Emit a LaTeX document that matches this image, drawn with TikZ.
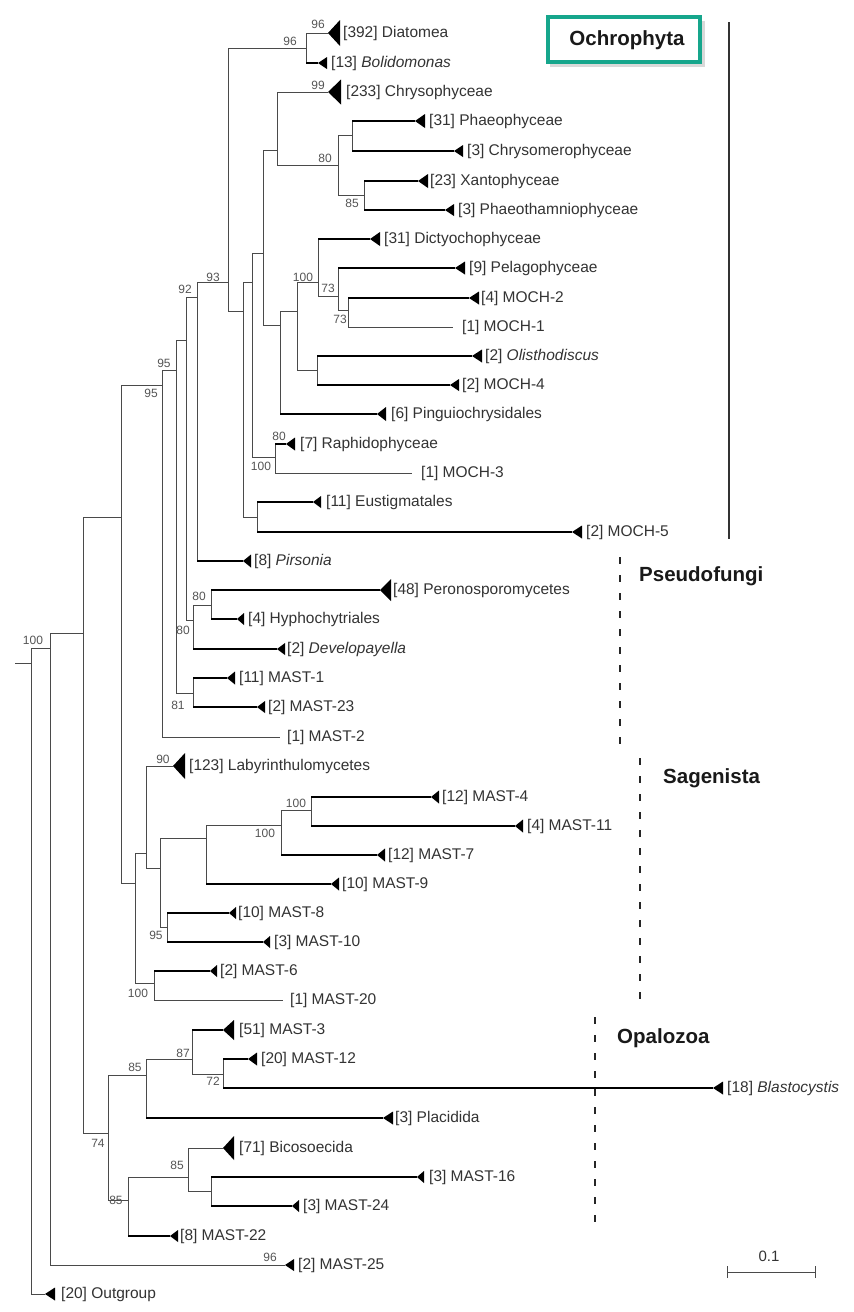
\documentclass[tikz,border=0pt]{standalone}
\usepackage{fontspec}
\setmainfont{Liberation Sans}
\definecolor{brc}{HTML}{4A4A4A}
\definecolor{txc}{HTML}{333333}
\definecolor{supc}{HTML}{555555}
\definecolor{tealbox}{RGB}{22,166,140}
\newcommand{\leaf}[9]{%
  \coordinate (#1) at (#4,#5);
  \draw[vline] (#2) -- (#2 |- #1);
  \draw[#3] (#2 |- #1) -- (#1);
  \ifdim #6pt>0pt \fill[tri] (#1) -- ++(#6,-#7) -- ++(0,2*#7) -- cycle;\fi
  \node[leaflab] (#1t) at (#8,#5) {#9};
}
\newcommand{\inode}[4]{%
  \coordinate (#1) at (#3,#4);
  \draw[vline] (#2) -- (#2 |- #1);
  \draw[thinbr] (#2 |- #1) -- (#1);
}
\begin{document}
\begin{tikzpicture}[x=1pt,y=-1pt,
  vline/.style={line width=0.9pt, draw=brc, line cap=rect},
  thinbr/.style={line width=0.9pt, draw=brc},
  thickbr/.style={line width=2.8pt, draw=black},
  tri/.style={fill=black},
  leaflab/.style={anchor=west, inner sep=0pt, text=txc, font=\fontsize{15.5}{18}\selectfont},
  sup/.style={inner sep=0pt, text=supc, font=\fontsize{12}{14}\selectfont},
  clade/.style={anchor=west, inner sep=0pt, text=black!90, font=\bfseries\fontsize{20.5}{24}\selectfont},
  cladedash/.style={line width=2.2pt, dash pattern=on 7pt off 11pt, draw=black!85},
]
\useasboundingbox[fill=white] (0,0) rectangle (854,1312);

% ---------- backbone ----------
\coordinate (root) at (15,663);
\inode{N0}{root}{31}{663}
\inode{N1}{N0}{50}{648}
\inode{N2}{N1}{83}{633}
\inode{N3}{N2}{121}{517}
\inode{N4}{N3}{162}{385}
\inode{N5}{N4}{176}{370}
\inode{N6}{N5}{186}{340}
\inode{N7}{N6}{197}{297}
% Ochrophyta
\inode{O1}{N7}{228}{282}
\inode{DB}{O1}{306}{48}
\inode{O2}{O1}{243}{311}
\inode{O3}{O2}{252}{282}
\inode{O4}{O3}{263}{253}
\inode{CH}{O4}{277}{150}
\inode{PH}{CH}{338}{165}
\inode{PP}{PH}{352}{135}
\inode{XP}{PH}{364}{195}
\inode{O5}{O4}{280}{325}
\inode{O6}{O5}{297}{311}
\inode{D1}{O6}{318}{282}
\inode{D2}{D1}{338}{296}
\inode{D3}{D2}{348}{310}
\inode{OM}{O6}{317}{370}
\inode{RM}{O3}{275}{457}
\inode{EM}{O2}{257}{517}
% Pseudofungi
\inode{P1}{N6}{193}{620}
\inode{P2}{P1}{211}{605}
\inode{M1}{N5}{193}{693}
% Sagenista
\inode{S0}{N3}{135}{883}
\inode{S1}{S0}{146}{853}
\inode{S2}{S1}{160}{868}
\inode{S3}{S2}{206}{838}
\inode{S4}{S3}{281}{825}
\inode{S5}{S4}{311}{810}
\inode{M8}{S2}{167}{927}
\inode{M6}{S0}{154}{983}
% Opalozoa
\inode{Q0}{N2}{108}{1133}
\inode{Q1}{Q0}{146}{1075}
\inode{Q2}{Q1}{192}{1059}
\inode{Q3}{Q2}{223}{1074}
\inode{Q4}{Q0}{128}{1200}
\inode{Q5}{Q4}{188}{1177}
\inode{Q6}{Q5}{211}{1191}

% ---------- leaves ----------
\leaf{dia}{DB}{thinbr}{328}{33}{12}{13}{343}{[392] Diatomea}
\leaf{bol}{DB}{thickbr}{318}{63}{9}{6}{331}{[13] \textit{Bolidomonas}}
\leaf{chr}{CH}{thinbr}{328}{92}{13}{12.5}{346}{[233] Chrysophyceae}
\leaf{pha}{PP}{thickbr}{415}{121}{10}{7}{429}{[31] Phaeophyceae}
\leaf{cmr}{PP}{thickbr}{454}{151}{9}{6}{467}{[3] Chrysomerophyceae}
\leaf{xan}{XP}{thickbr}{418}{181}{10}{7}{430}{[23] Xantophyceae}
\leaf{pht}{XP}{thickbr}{445}{210}{9}{6}{458}{[3] Phaeothamniophyceae}
\leaf{dic}{D1}{thickbr}{370}{239}{10}{7}{384}{[31] Dictyochophyceae}
\leaf{pel}{D2}{thickbr}{455}{268}{10}{6.5}{469}{[9] Pelagophyceae}
\leaf{mtwo}{D3}{thickbr}{469}{298}{10}{6.5}{481}{[4] MOCH-2}
\leaf{mone}{D3}{thinbr}{453}{327}{0}{0}{462}{[1] MOCH-1}
\leaf{oli}{OM}{thickbr}{472}{356}{10}{6.5}{485}{[2] \textit{Olisthodiscus}}
\leaf{mfour}{OM}{thickbr}{450}{385}{9}{6}{462}{[2] MOCH-4}
\leaf{pin}{O5}{thickbr}{377}{414}{9}{7}{391}{[6] Pinguiochrysidales}
\leaf{rap}{RM}{thickbr}{286}{444}{9}{6.5}{300}{[7] Raphidophyceae}
\leaf{mthree}{RM}{thinbr}{412}{473}{0}{0}{421}{[1] MOCH-3}
\leaf{eus}{EM}{thickbr}{313}{502}{8}{6}{326}{[11] Eustigmatales}
\leaf{mfive}{EM}{thickbr}{572}{532}{10}{6.5}{586}{[2] MOCH-5}
\leaf{pir}{N7}{thickbr}{243}{561}{8}{6.5}{254}{[8] \textit{Pirsonia}}
\leaf{per}{P2}{thickbr}{380}{590}{11}{11}{393}{[48] Peronosporomycetes}
\leaf{hyp}{P2}{thickbr}{237}{619}{7}{6}{248}{[4] Hyphochytriales}
\leaf{dev}{P1}{thickbr}{277}{649}{8}{6}{287}{[2] \textit{Developayella}}
\leaf{maone}{M1}{thickbr}{227}{678}{8}{6.5}{239}{[11] MAST-1}
\leaf{matwthr}{M1}{thickbr}{257}{707}{8}{6}{268}{[2] MAST-23}
\leaf{matwo}{N4}{thinbr}{280}{737}{0}{0}{287}{[1] MAST-2}
\leaf{lab}{S1}{thinbr}{173}{766}{12}{13}{189}{[123] Labyrinthulomycetes}
\leaf{mafour}{S5}{thickbr}{431}{797}{8}{6.5}{442}{[12] MAST-4}
\leaf{maeleven}{S5}{thickbr}{515}{826}{8}{6.5}{527}{[4] MAST-11}
\leaf{maseven}{S4}{thickbr}{377}{855}{8}{6.5}{388}{[12] MAST-7}
\leaf{manine}{S3}{thickbr}{331}{884}{8}{6.5}{342}{[10] MAST-9}
\leaf{maeight}{M8}{thickbr}{229}{913}{7}{6}{238}{[10] MAST-8}
\leaf{maten}{M8}{thickbr}{263}{942}{7}{6}{274}{[3] MAST-10}
\leaf{masix}{M6}{thickbr}{210}{971}{7}{6}{220}{[2] MAST-6}
\leaf{matwenty}{M6}{thinbr}{283}{1000}{0}{0}{290}{[1] MAST-20}
\leaf{mathree}{Q2}{thickbr}{223}{1030}{11}{10}{239}{[51] MAST-3}
\leaf{matwelve}{Q3}{thickbr}{248}{1059}{9}{6.5}{261}{[20] MAST-12}
\leaf{bla}{Q3}{thickbr}{713}{1088}{10}{6.5}{727}{[18] \textit{Blastocystis}}
\leaf{pla}{Q1}{thickbr}{383}{1118}{10}{6.5}{395}{[3] Placidida}
\leaf{bic}{Q5}{thinbr}{223}{1148}{11}{12}{239}{[71] Bicosoecida}
\leaf{masixteen}{Q6}{thickbr}{417}{1177}{7}{6}{429}{[3] MAST-16}
\leaf{matwfour}{Q6}{thickbr}{292}{1206}{7}{6}{303}{[3] MAST-24}
\leaf{matwtwo}{Q4}{thickbr}{170}{1236}{8}{6}{180}{[8] MAST-22}
\leaf{matwfive}{N1}{thinbr}{285}{1265}{9}{6}{298}{[2] MAST-25}
\leaf{outg}{N0}{thinbr}{45}{1294}{10}{6.5}{61}{[20] Outgroup}

% ---------- support values ----------
\node[sup] (s1) at (318,24) {96};
\node[sup] (s2) at (290,41) {96};
\node[sup] (s3) at (318,85) {99};
\node[sup] (s4) at (325,158) {80};
\node[sup] (s5) at (352,203) {85};
\node[sup] (s6) at (303,277) {100};
\node[sup] (s7) at (328,288) {73};
\node[sup] (s8) at (340,319) {73};
\node[sup] (s9) at (279,436) {80};
\node[sup] (s10) at (261,466) {100};
\node[sup] (s11) at (213,277) {93};
\node[sup] (s12) at (185,289) {92};
\node[sup] (s13) at (164,363) {95};
\node[sup] (s14) at (151,393) {95};
\node[sup] (s15) at (199,596) {80};
\node[sup] (s16) at (183,630) {80};
\node[sup] (s17) at (178,705) {81};
\node[sup] (s18) at (33,640) {100};
\node[sup] (s19) at (163,759) {90};
\node[sup] (s20) at (296,803) {100};
\node[sup] (s21) at (265,833) {100};
\node[sup] (s22) at (156,935) {95};
\node[sup] (s23) at (138,993) {100};
\node[sup] (s24) at (135,1067) {85};
\node[sup] (s25) at (183,1053) {87};
\node[sup] (s26) at (213,1081) {72};
\node[sup] (s27) at (98,1143) {74};
\node[sup] (s28) at (177,1165) {85};
\node[sup] (s29) at (116,1200) {85};
\node[sup] (s30) at (270,1257) {96};

% ---------- clade labels ----------
\fill[black!15] (550,21) rectangle (705,67);
\draw[tealbox, line width=4pt, fill=white] (548,17) rectangle (700,62);
\node[clade, anchor=center] (ochro) at (627,40) {Ochrophyta};
\draw[line width=1.6pt, draw=black!80] (729,22) -- (729,539);

\draw[cladedash] (620,557) -- (620,752);
\node[clade] (pseudo) at (639,576) {Pseudofungi};
\draw[cladedash] (640,758) -- (640,1005);
\node[clade] (sagen) at (663,778) {Sagenista};
\draw[cladedash] (595,1017) -- (595,1233);
\node[clade] (opalo) at (617,1038) {Opalozoa};

% ---------- scale bar ----------
\coordinate (sbL) at (727,1272);
\coordinate (sbR) at (815,1272);
\draw[thinbr] (sbL) -- (sbR);
\draw[thinbr] ([yshift=-6pt]sbL) -- ([yshift=6pt]sbL);
\draw[thinbr] ([yshift=-6pt]sbR) -- ([yshift=6pt]sbR);
\node[inner sep=0pt, text=txc, font=\fontsize{15}{17}\selectfont] (sbt) at (769,1256) {0.1};
\end{tikzpicture}
\end{document}
